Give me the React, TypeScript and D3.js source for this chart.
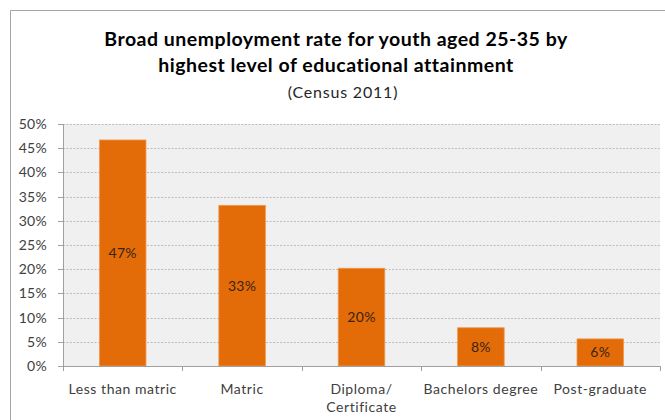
import React from "react";
import * as d3 from "d3";

const categories = ["Less than matric", "Matric", "Diploma/ Certificate", "Bachelors degree", "Post-graduate"];
const categoryLines = [["Less than matric"], ["Matric"], ["Diploma/", "Certificate"], ["Bachelors degree"], ["Post-graduate"]];
const values = [46.7, 33.2, 20.2, 7.9, 5.6];
const valueLabels = ["47%", "33%", "20%", "8%", "6%"];
const yTicks = [0, 5, 10, 15, 20, 25, 30, 35, 40, 45, 50];
const titleLines = ["Broad unemployment rate for youth aged 25-35 by", "highest level of educational attainment"];
const subtitle = "(Census 2011)";

const W = 665;
const H = 420;
const FONT = "Lato, 'Open Sans', sans-serif";

export default function App() {
  const left = 63;
  const right = 660;
  const top = 124;
  const bottom = 366;
  const x = d3.scaleBand<string>().domain(categories).range([left, right]).paddingInner(0.61).paddingOuter(0.305);
  const xb = d3.scaleBand<string>().domain(categories).range([left, right]);
  const y = d3.scaleLinear().domain([0, 50]).range([bottom, top]);
  const boundaries = categories.map((c) => xb(c) as number).concat([right]);

  return (
    <svg width={W} height={H} style={{ position: "absolute", left: 0, top: 0, background: "#fff" }} fontFamily={FONT}>
      <rect x={0} y={0} width={W} height={H} fill="#fff" />
      <path d={`M10.5,${H} V10.5 H${W}`} fill="none" stroke="#a6a6a6" strokeWidth={1} />
      {titleLines.map((t, i) => (
        <text key={i} x={336} y={46 + i * 26} textAnchor="middle" fontSize={19.5} letterSpacing={0.5} fontWeight="bold" fill="#000">
          {t}
        </text>
      ))}
      <text x={343} y={98} textAnchor="middle" fontSize={16} letterSpacing={0.8} fill="#262626">
        {subtitle}
      </text>
      <rect x={left} y={top} width={right - left} height={bottom - top} fill="#f0f0f0" />
      {yTicks.filter((t) => t > 0).map((t) => (
        <line key={t} x1={left} x2={right} y1={Math.round(y(t)) + 0.5} y2={Math.round(y(t)) + 0.5} stroke="#bdbdbd" strokeDasharray="2,1.5" strokeWidth={1} />
      ))}
      {values.map((v, i) => {
        const c = categories[i];
        const bx = x(c) as number;
        const bw = x.bandwidth();
        return (
          <g key={c}>
            <rect x={bx} y={y(v)} width={bw} height={bottom - y(v)} fill="#e36c09" stroke="#ee9a52" strokeWidth={0.8} />
            <text x={bx + bw / 2} y={(y(v) + bottom) / 2 + 5} textAnchor="middle" fontSize={14} letterSpacing={0.3} fill="#3a2310">
              {valueLabels[i]}
            </text>
          </g>
        );
      })}
      <line x1={left + 0.5} x2={left + 0.5} y1={top} y2={bottom} stroke="#a0a0a0" />
      <line x1={left} x2={right} y1={bottom + 0.5} y2={bottom + 0.5} stroke="#a0a0a0" />
      {yTicks.map((t) => (
        <g key={t}>
          <line x1={left - 5} x2={left} y1={Math.round(y(t)) + 0.5} y2={Math.round(y(t)) + 0.5} stroke="#a0a0a0" />
          <text x={47} y={y(t) + 5} textAnchor="end" fontSize={14} letterSpacing={0.3} fill="#404040">
            {t}%
          </text>
        </g>
      ))}
      {boundaries.map((b, i) => (
        <line key={i} x1={Math.round(b) + 0.5} x2={Math.round(b) + 0.5} y1={bottom} y2={bottom + 5} stroke="#a0a0a0" />
      ))}
      {categoryLines.map((lines, i) => {
        const cx = (xb(categories[i]) as number) + xb.bandwidth() / 2;
        return (
          <text key={i} textAnchor="middle" fontSize={14} letterSpacing={0.55} fill="#404040">
            {lines.map((l, j) => (
              <tspan key={j} x={cx} y={393.5 + j * 18.5}>
                {l}
              </tspan>
            ))}
          </text>
        );
      })}
    </svg>
  );
}
